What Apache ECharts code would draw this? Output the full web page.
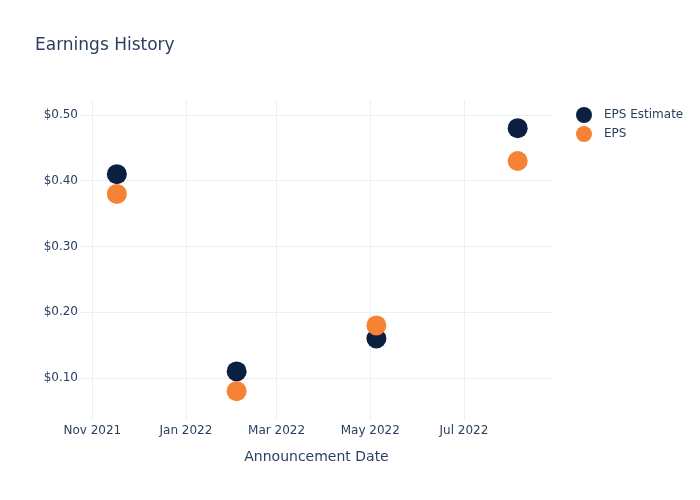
<!DOCTYPE html>
<html>
<head>
<meta charset="utf-8">
<script src="https://cdn.jsdelivr.net/npm/echarts@6/dist/echarts.min.js"></script>
<style>
html, body { margin: 0; padding: 0; background: #fff; }
#chart { width: 700px; height: 500px; }
</style>
</head>
<body>
<div id="chart"></div>
<script>
// announcement dates and eps values
var dates = ['2021-11-17', '2022-02-03', '2022-05-05', '2022-08-05'];
var epsEstimate = [0.41, 0.11, 0.16, 0.48];
var epsActual = [0.38, 0.08, 0.18, 0.43];
var xTicks = ['2021-11-01', '2022-01-01', '2022-03-01', '2022-05-01', '2022-07-01'];
var yTicks = [0.1, 0.2, 0.3, 0.4, 0.5];

var txt = '#2a3f5f';
var grid = '#ebf0f8';
var font = 'DejaVu Sans';

function ts(d) { return new Date(d + 'T00:00:00Z').getTime(); }
var monthNames = ['Jan','Feb','Mar','Apr','May','Jun','Jul','Aug','Sep','Oct','Nov','Dec'];

var chart = echarts.init(document.getElementById('chart'));
chart.setOption({
    animation: false,
    backgroundColor: '#fff',
    textStyle: { fontFamily: font },
    title: {
        text: 'Earnings History',
        left: 30, top: 32,
        textStyle: { color: txt, fontSize: 17, fontWeight: 'normal', fontFamily: font }
    },
    legend: {
        orient: 'vertical',
        left: 571, top: 102,
        itemWidth: 16, itemHeight: 16, itemGap: 3,
        icon: 'circle',
        textStyle: { color: txt, fontSize: 12, fontFamily: font, padding: [0, 0, 0, 7] },
        data: ['EPS Estimate', 'EPS']
    },
    grid: { left: 80, right: 147, top: 100, bottom: 80 },
    xAxis: {
        type: 'value',
        min: ts('2021-10-24'),
        max: ts('2022-08-28'),
        name: 'Announcement Date',
        nameLocation: 'middle',
        nameGap: 30,
        nameTextStyle: { color: txt, fontSize: 14, fontFamily: font },
        axisLine: { show: false },
        axisTick: { show: false, customValues: xTicks.map(ts) },
        axisLabel: {
            customValues: xTicks.map(ts),
            color: txt, fontSize: 12, margin: 5,
            formatter: function (v) {
                var d = new Date(v);
                return monthNames[d.getUTCMonth()] + ' ' + d.getUTCFullYear();
            }
        },
        splitLine: { show: true, lineStyle: { color: grid, width: 1 } }
    },
    yAxis: {
        type: 'value',
        min: 0.0361,
        max: 0.5228,
        axisLine: { show: false },
        axisTick: { show: false, customValues: yTicks },
        axisLabel: {
            customValues: yTicks,
            color: txt, fontSize: 12, margin: 2,
            padding: [2, 0, 0, 0],
            formatter: function (v) { return '$' + v.toFixed(2); }
        },
        splitLine: { show: true, lineStyle: { color: grid, width: 1 } }
    },
    series: [
        {
            name: 'EPS Estimate',
            type: 'scatter',
            symbolSize: 20,
            itemStyle: { color: '#0b1f40', opacity: 1 },
            data: dates.map(function (d, i) { return [ts(d), epsEstimate[i]]; })
        },
        {
            name: 'EPS',
            type: 'scatter',
            symbolSize: 20,
            itemStyle: { color: '#f58235', opacity: 1 },
            data: dates.map(function (d, i) { return [ts(d), epsActual[i]]; })
        }
    ]
});
</script>
</body>
</html>
